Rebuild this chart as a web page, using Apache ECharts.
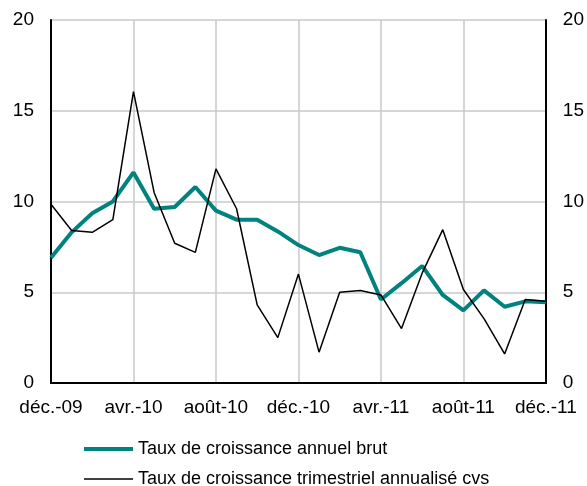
<!DOCTYPE html>
<html>
<head>
<meta charset="utf-8">
<script src="https://cdn.jsdelivr.net/npm/echarts@6/dist/echarts.min.js"></script>
<style>
  html, body { margin: 0; padding: 0; background: #fff; }
  #chart { width: 587px; height: 486px; }
</style>
</head>
<body>
<div id="chart"></div>
<script>
const months = [
  'déc.-09', 'janv.-10', 'févr.-10', 'mars-10', 'avr.-10', 'mai-10', 'juin-10',
  'juil.-10', 'août-10', 'sept.-10', 'oct.-10', 'nov.-10', 'déc.-10',
  'janv.-11', 'févr.-11', 'mars-11', 'avr.-11', 'mai-11', 'juin-11',
  'juil.-11', 'août-11', 'sept.-11', 'oct.-11', 'nov.-11', 'déc.-11'
]

const annuelBrut = [
  6.9, 8.3, 9.35, 10.0, 11.6, 9.6, 9.7, 10.8, 9.5, 9.0, 9.0, 8.35, 7.6,
  7.05, 7.45, 7.2, 4.6, 5.5, 6.45, 4.85, 4.0, 5.1, 4.2, 4.5, 4.45
]

const trimestrielCvs = [
  9.85, 8.4, 8.3, 9.0, 16.05, 10.5, 7.7, 7.2, 11.8, 9.6, 4.3, 2.5, 6.0,
  1.7, 5.0, 5.1, 4.85, 3.0, 6.05, 8.45, 5.15, 3.55, 1.6, 4.6, 4.5
]

const yTicks = [0, 5, 10, 15, 20]

const seriesNames = [
  'Taux de croissance annuel brut',
  'Taux de croissance trimestriel annualisé cvs'
]

const font = 'Liberation Sans, Arial, sans-serif'
const border = { show: true, lineStyle: { color: '#000', width: 2 } }
const grid = { color: '#c8c8c8', width: 1.5 }

function yAxis(position) {
  return {
    type: 'value',
    position: position,
    min: yTicks[0],
    max: yTicks[yTicks.length - 1],
    interval: 5,
    axisLine: border,
    axisTick: { show: false },
    axisLabel: { color: '#000', fontSize: 19, fontFamily: font, margin: 17 },
    splitLine: { show: position === 'left', lineStyle: grid }
  }
}

const chart = echarts.init(document.getElementById('chart'))

chart.setOption({
  animation: false,
  grid: { left: 51, right: 40, top: 20, bottom: 103 },
  legend: {
    orient: 'vertical',
    left: 79,
    top: 435,
    height: 80,
    itemWidth: 49,
    itemHeight: 14,
    itemGap: 12,
    itemStyle: { borderWidth: 0 },
    textStyle: { color: '#000', fontSize: 18, fontFamily: font },
    data: [
      { name: seriesNames[0], icon: 'path://M0,0H49V4H0Z' },
      { name: seriesNames[1], icon: 'path://M0,0H49V1.5H0Z' }
    ]
  },
  xAxis: [
    {
      type: 'category',
      data: months,
      boundaryGap: false,
      axisLine: border,
      axisTick: { show: false },
      axisLabel: {
        interval: 3,
        color: '#000',
        fontSize: 19,
        fontFamily: font,
        margin: 15
      },
      splitLine: { show: true, interval: 3, lineStyle: grid }
    },
    {
      type: 'category',
      position: 'top',
      data: months,
      boundaryGap: false,
      axisLine: border,
      axisTick: { show: false },
      axisLabel: { show: false },
      splitLine: { show: false }
    }
  ],
  yAxis: [yAxis('left'), yAxis('right')],
  series: [
    {
      name: seriesNames[0],
      type: 'line',
      data: annuelBrut,
      symbol: 'none',
      z: 3,
      lineStyle: { color: '#00827f', width: 4 },
      itemStyle: { color: '#00827f' }
    },
    {
      name: seriesNames[1],
      type: 'line',
      data: trimestrielCvs,
      symbol: 'none',
      z: 4,
      lineStyle: { color: '#000', width: 1.5 },
      itemStyle: { color: '#000' }
    }
  ]
})
</script>
</body>
</html>
